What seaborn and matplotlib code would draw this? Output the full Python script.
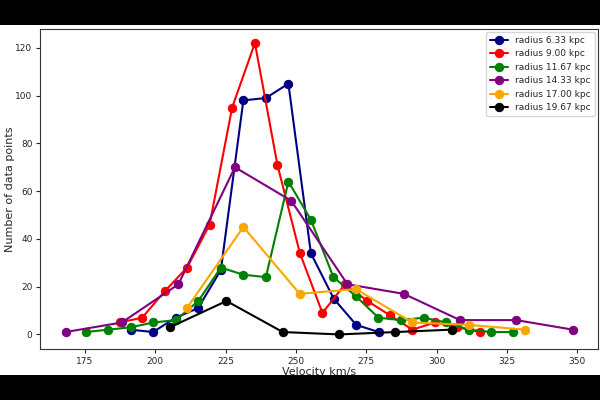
import matplotlib
matplotlib.use("Agg")
import matplotlib.pyplot as plt
import seaborn as sns
import pandas as pd
from matplotlib.patches import Rectangle

# ---- data ----
labels = ["radius 6.33 kpc", "radius 9.00 kpc", "radius 11.67 kpc",
          "radius 14.33 kpc", "radius 17.00 kpc", "radius 19.67 kpc"]
colors = ["navy", "red", "green", "purple", "orange", "black"]

v_633 = [191.2, 199.2, 207.2, 215.2, 223.3, 231.3, 239.3, 247.3, 255.3, 263.4, 271.4, 279.4]
n_633 = [2, 1, 7, 11, 27, 98, 99, 105, 34, 15, 4, 1]

v_900 = [187.3, 195.3, 203.3, 211.3, 219.3, 227.3, 235.4, 243.4, 251.4, 259.4, 267.4,
         275.4, 283.4, 291.4, 299.4, 307.4, 315.4]
n_900 = [5, 7, 18, 28, 46, 95, 122, 71, 34, 9, 21, 14, 8, 2, 5, 3, 1]

v_1167 = [175.3, 183.3, 191.3, 199.3, 207.3, 215.3, 223.3, 231.3, 239.3, 247.3, 255.3,
          263.3, 271.3, 279.3, 287.3, 295.4, 303.4, 311.4, 319.3, 327.3]
n_1167 = [1, 2, 3, 5, 6, 14, 28, 25, 24, 64, 48, 24, 16, 7, 6, 7, 5, 2, 1, 1]

v_1433 = [168.1, 188.1, 208.2, 228.3, 248.3, 268.3, 288.3, 308.3, 328.3, 348.4]
n_1433 = [1, 5, 21, 70, 56, 21, 17, 6, 6, 2]

v_1700 = [211.2, 231.3, 251.3, 271.3, 291.3, 311.4, 331.4]
n_1700 = [11, 45, 17, 19, 5, 4, 2]

v_1967 = [205.2, 225.3, 245.3, 265.3, 285.3, 305.3]
n_1967 = [3, 14, 1, 0, 1, 2]

velocities = [v_633, v_900, v_1167, v_1433, v_1700, v_1967]
counts = [n_633, n_900, n_1167, n_1433, n_1700, n_1967]

# ---- plot ----
sns.set_style("ticks")
plt.rcParams["font.family"] = ["DejaVu Sans"]

fig = plt.figure(figsize=(6, 4), dpi=100, facecolor="white")
ax = fig.add_axes([0.067, 0.1275, 0.930, 0.80125])

for lab, col, vx, ny in zip(labels, colors, velocities, counts):
    df = pd.DataFrame({"v": vx, "n": ny})
    sns.lineplot(data=df, x="v", y="n", ax=ax, color=col, marker="o",
                 markersize=6.0, markeredgecolor=col, linewidth=1.5,
                 sort=False, label=lab)

ax.set_xticks([175, 200, 225, 250, 275, 300, 325, 350])
ax.set_yticks([0, 20, 40, 60, 80, 100, 120])
ax.tick_params(labelsize=6.5, length=3, width=0.8, pad=2.5)
for s in ax.spines.values():
    s.set_linewidth(0.8)
    s.set_color("#333333")
ax.set_xlabel("Velocity km/s", fontsize=8, labelpad=1)
ax.set_ylabel("Number of data points", fontsize=8, labelpad=0)

leg = ax.legend(loc="upper right", fontsize=6.5, frameon=True, framealpha=0.8,
                borderaxespad=0.4, handlelength=2.0)

# letterbox bands
fig.patches.append(Rectangle((0, 0.9375), 1, 0.0625, transform=fig.transFigure,
                             facecolor="black", edgecolor="none", zorder=100))
fig.patches.append(Rectangle((0, 0), 1, 0.0625, transform=fig.transFigure,
                             facecolor="black", edgecolor="none", zorder=100))

fig.savefig("out.png", dpi=100, facecolor="white")
